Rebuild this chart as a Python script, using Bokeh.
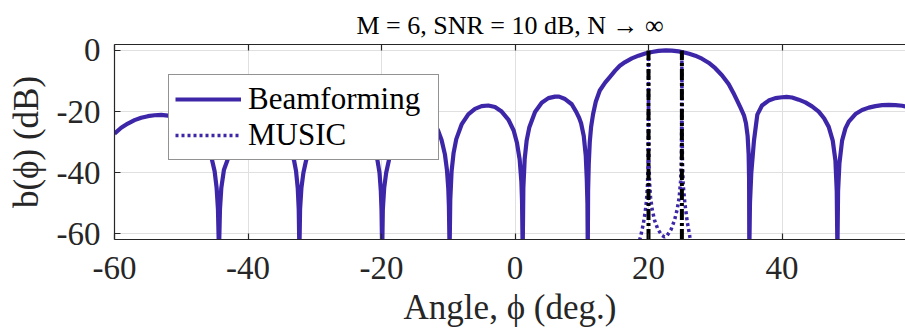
from bokeh.plotting import figure
from bokeh.models import Range1d, LinearAxis, FixedTicker, Legend, LegendItem, Title
from bokeh.embed import file_html
from bokeh.resources import INLINE

# ---------------- data ----------------
title_text = "M = 6, SNR = 10 dB, N \u2192 \u221e"
x_label_text = "Angle, \u03d5 (deg.)"
y_label_text = "b(\u03d5) (dB)"

x_ticks = [-60, -40, -20, 0, 20, 40]
x_tick_labels = ["-60", "-40", "-20", "0", "20", "40"]
y_ticks = [-60, -40, -20, 0]
y_tick_labels = ["-60", "-40", "-20", "0"]

series_names = ["Beamforming", "MUSIC"]

# beamforming spectrum (deg, dB)
bf_angle = [
    -60, -59, -58, -57, -56, -55, -54, -53, -52, -51, -50, -49, -48, -47, -46, -45.5, -45, -44.7, -44.5, -44.35,
    -44.2, -44.0, -43.6, -43.1, -42.5, -42, -41, -40, -39, -38.3, -37.5, -36.5, -35.5, -34.5, -33.8, -33.1, -32.8, -32.55, -32.4, -32.3,
    -32.2, -32.0, -31.7, -31.3, -30.5, -29.5, -28.5, -27.5, -26.5, -26, -25, -24, -23, -22, -21.2, -20.6, -20.3, -20.1, -20.0, -19.9,
    -19.8, -19.6, -19.3, -18.9, -18.3, -17.5, -16.5, -15.5, -14.9, -14, -13, -12, -11.5, -11, -10.5, -10.2, -10.0, -9.9, -9.8,
    -9.7, -9.5, -9.2, -8.8, -8, -7, -6, -5, -4, -3, -2, -1, -0.2, 0.3, 0.7, 0.95, 1.05, 1.15,
    1.25, 1.45, 1.75, 2.15, 3, 4, 5, 6, 6.6, 7.5, 8.5, 9.15, 9.6, 9.9, 10.3, 10.6, 10.75, 10.85, 10.9,
    10.95, 11.05, 11.2, 11.4, 11.7, 12.1, 12.7, 13.5, 14.2, 15, 15.7, 16.5, 17.5, 18.5, 19.5, 20.5, 21.5, 22.6,
    23.5, 24.5, 25.5, 26.1, 27, 28, 29, 30, 31, 32, 32.7, 33.3, 33.8, 34.3, 34.6, 34.85, 35.0, 35.07, 35.1,
    35.2, 35.4, 35.8, 36.3, 37, 38, 39, 40, 40.7, 41.5, 42.5, 43.5, 44.5, 45.5, 46.3, 47, 47.6, 48.0, 48.2, 48.3,
    48.4, 48.6, 49, 49.5, 50, 51, 52, 53, 54, 55, 56, 57, 58, 58.5,
]
bf_db = [
    -27.2, -25.3, -23.9, -22.8, -22.0, -21.5, -21.2, -21.1, -21.3, -21.8, -22.6, -23.8, -25.5, -28.0, -31.8, -34.8, -39.5, -45, -52, -66,
    -52, -45, -39, -36, -32.5, -30.3, -27.3, -25.4, -24.4, -24.0, -24.1, -24.8, -26.3, -28.8, -31.5, -36, -39.5, -45, -52, -66,
    -52, -45, -40, -36, -31, -27, -24.5, -23, -22.3, -22.2, -22.4, -23.3, -25, -27.8, -31.5, -36, -40, -46, -52, -66,
    -52, -45, -40, -36, -31.5, -27.5, -23.5, -21, -20.5, -20.6, -21.8, -24.3, -26.3, -29.3, -34, -39, -45, -51, -66,
    -49, -39.5, -33.5, -29, -24.2, -20.9, -19.1, -18.2, -18.0, -18.5, -20.0, -22.6, -26.2, -30.3, -35.7, -42.8, -49, -66,
    -45, -35.5, -29.4, -25.1, -20.1, -17.1, -15.6, -15.1, -15.1, -15.9, -17.6, -20, -22, -23.8, -28, -34.5, -42, -50, -66,
    -46, -37, -30, -25, -20.8, -16.8, -13.1, -10.5, -8.7, -6.6, -5.0, -3.8, -2.6, -1.7, -1.0, -0.5, -0.15, 0.0,
    -0.05, -0.3, -0.75, -1.1, -1.7, -2.7, -4.0, -5.8, -8.1, -11, -13.8, -16.5, -18.8, -21.2, -23.8, -28, -34, -42, -66,
    -50, -40, -29.5, -21, -18, -16.4, -15.6, -15.3, -15.2, -15.4, -16.1, -17.0, -18.3, -20.0, -22.2, -25.0, -29.5, -36, -46, -66,
    -46, -37, -29.5, -25.5, -23.3, -20.8, -19.5, -18.7, -18.2, -17.9, -17.8, -17.9, -18.1, -18.3,
]

# MUSIC spectrum (deg, dB)
music_angle = [18.4, 18.8, 19.2, 19.5, 19.7, 19.85, 19.93, 19.98, 20.0, 20.02, 20.07, 20.15, 20.3, 20.55, 20.9,
               21.4, 22.0, 22.4, 22.8, 23.4, 23.9, 24.3, 24.6, 24.8, 24.92, 24.97, 25.0, 25.03, 25.08, 25.2,
               25.45, 25.8, 26.2, 26.5]
music_db = [-64, -61, -57, -53, -49, -44, -36, -22, 0, -22, -36, -43, -48, -52, -55.5,
            -58.5, -60.5, -61, -60.5, -58.5, -55.5, -52, -48, -43, -36, -22, 0, -22, -36, -44,
            -50, -56, -61, -64]

# true directions of arrival
doa_angles = [20, 25]
doa_low = [-62, -62]
doa_high = [0, 0]

# ---------------- styling ----------------
FONT = "Liberation Serif"
BLUE = "#3e26a8"
AX = "#262626"
GRID = "#e0e0e0"

p = figure(width=905, height=331, output_backend="svg", toolbar_location=None,
           x_range=Range1d(-60, 58.5), y_range=Range1d(-61.85, 1.95),
           min_border_left=114, min_border_right=0, min_border_top=44, min_border_bottom=92)
p.outline_line_color = None
p.background_fill_color = "white"
p.border_fill_color = "white"

xa = p.xaxis[0]
ya = p.yaxis[0]
xa.ticker = FixedTicker(ticks=x_ticks)
ya.ticker = FixedTicker(ticks=y_ticks)
xa.major_label_overrides = {t: s for t, s in zip(x_ticks, x_tick_labels)}
ya.major_label_overrides = {t: s for t, s in zip(y_ticks, y_tick_labels)}
for ax in (xa, ya):
    ax.major_tick_in = 6
    ax.major_tick_out = 0
    ax.minor_tick_line_color = None
    ax.axis_line_color = AX
    ax.axis_line_width = 1.2
    ax.major_tick_line_color = AX
    ax.major_tick_line_width = 1.2
    ax.major_label_text_font = FONT
    ax.major_label_text_font_size = "33px"
    ax.major_label_text_color = AX
    ax.axis_label_text_font = FONT
    ax.axis_label_text_font_size = "35px"
    ax.axis_label_text_font_style = "normal"
    ax.axis_label_text_color = AX
xa.major_label_standoff = 17
ya.major_label_standoff = 14
xa.axis_label = x_label_text
ya.axis_label = y_label_text
xa.axis_label_standoff = 6
ya.axis_label_standoff = 8

top_axis = LinearAxis(ticker=FixedTicker(ticks=x_ticks),
                      major_label_overrides={t: "" for t in x_ticks},
                      major_label_text_font_size="1px", major_label_standoff=0,
                      major_tick_in=6, major_tick_out=0, minor_tick_line_color=None,
                      axis_line_color=AX, axis_line_width=1.2,
                      major_tick_line_color=AX, major_tick_line_width=1.2)
p.add_layout(top_axis, "above")

p.add_layout(Title(text=title_text, align="center", text_font=FONT, text_font_size="26px",
                   text_font_style="normal", text_color="black", standoff=9, offset=10), "above")

p.xgrid.grid_line_color = GRID
p.ygrid.grid_line_color = GRID
p.xgrid.grid_line_width = 1
p.ygrid.grid_line_width = 1

bf = p.line(bf_angle, bf_db, line_color=BLUE, line_width=4.2, line_join="round")
mu = p.line(music_angle, music_db, line_color=BLUE, line_width=3.5, line_dash="3 3")
p.segment(x0=doa_angles, y0=doa_low, x1=doa_angles, y1=doa_high,
          line_color="black", line_width=4, line_dash="11 3 3 3")

legend = Legend(items=[LegendItem(label=series_names[0], renderers=[bf]),
                       LegendItem(label=series_names[1], renderers=[mu])],
                location=(54, 79), orientation="vertical",
                label_text_font=FONT, label_text_font_size="31px", label_text_color="black",
                glyph_width=66, glyph_height=30, label_standoff=7, label_width=184,
                padding=6, spacing=0,
                margin=0, border_line_color=AX, border_line_width=1.2,
                background_fill_color="white", background_fill_alpha=1)
p.add_layout(legend, "center")

open("out.html", "w").write(file_html(p, INLINE))
